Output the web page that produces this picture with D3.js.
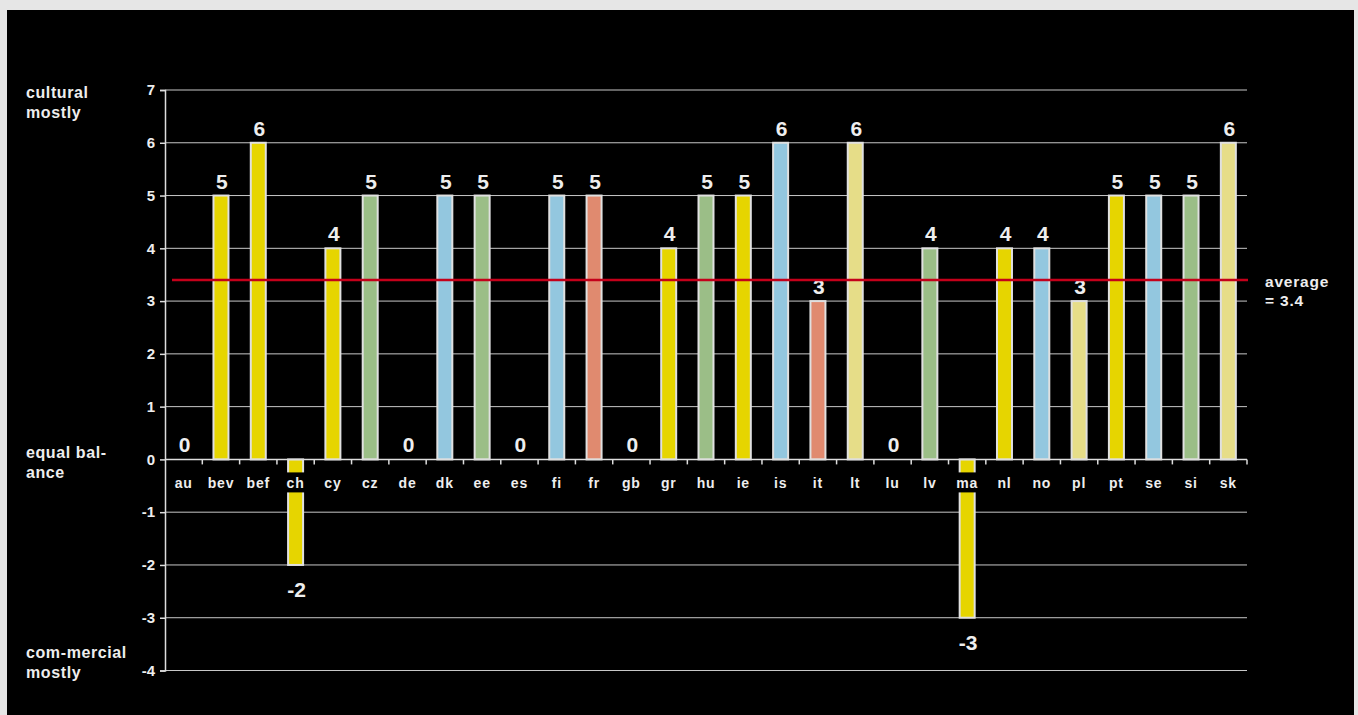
<!DOCTYPE html>
<html>
<head>
<meta charset="utf-8">
<script src="https://cdn.jsdelivr.net/npm/d3@7"></script>
<style>
  html, body { margin: 0; padding: 0; background: #e6e6e6; }
  svg { display: block; font-family: "Liberation Sans", Arial, Helvetica, sans-serif; font-weight: bold; }
</style>
</head>
<body>
<svg id="chart" width="1358" height="715"></svg>
<script>
// Country codes along the category axis
const countries = ["au","bev","bef","ch","cy","cz","de","dk","ee","es","fi","fr","gb","gr","hu","ie","is","it","lt","lu","lv","ma","nl","no","pl","pt","se","si","sk"];
// Score per country (cultural vs commercial balance)
const scores = [0,5,6,-2,4,5,0,5,5,0,5,5,0,4,5,5,6,3,6,0,4,-3,4,4,3,5,5,5,6];
// Colour group per country
const groups = ["y","y","y","y","y","g","y","b","g","y","b","s","y","y","g","y","b","s","p","y","g","y","y","b","p","y","b","g","p"];
const groupColors = { y: "#e6d500", p: "#e6dd88", g: "#9bbe87", b: "#93c7df", s: "#e08a6f" };
const yTicks = [-4,-3,-2,-1,0,1,2,3,4,5,6,7];
const average = 3.4;
const sideLabels = [
  { value: 7, dy: 8, lines: ["cultural", "mostly"] },
  { value: 0, dy: -1, lines: ["equal bal-", "ance"] },
  { value: -4, dy: -13, lines: ["com-mercial", "mostly"] }
];

const svg = d3.select("#chart");
// black panel
svg.append("rect").attr("x", 7).attr("y", 10).attr("width", 1347).attr("height", 705).attr("fill", "#000");

const left = 165, right = 1247;
const x = d3.scaleBand().domain(countries).range([left, right]).paddingInner(0).paddingOuter(0);
const y = d3.scaleLinear().domain([-4, 7]).range([670.5, 90]);

// horizontal grid lines
svg.append("g").selectAll("line").data(yTicks.filter(t => t !== 0)).join("line")
  .attr("x1", left).attr("x2", right)
  .attr("y1", d => y(d)).attr("y2", d => y(d))
  .attr("stroke", "#c8c8c8").attr("stroke-width", 1);

// y axis
const yAxis = d3.axisLeft(y).tickValues(yTicks).tickSize(5).tickPadding(5).tickFormat(d => String(d));
const gy = svg.append("g").attr("transform", `translate(${left},0)`).call(yAxis);
gy.attr("font-size", null).attr("font-family", null);
gy.select(".domain").attr("stroke", "#ddd").attr("stroke-width", 1.5);
gy.selectAll(".tick line").attr("stroke", "#ddd").attr("stroke-width", 1.5);
gy.selectAll(".tick text").attr("fill", "#eee").attr("font-size", 15).attr("font-weight", "bold");

// bars
const bw = 15;
const data = countries.map((c, i) => ({ c, v: scores[i], g: groups[i] }));
svg.append("g").selectAll("rect").data(data.filter(d => d.v !== 0)).join("rect")
  .attr("x", d => x(d.c) + x.bandwidth() / 2 - bw / 2)
  .attr("width", bw)
  .attr("y", d => Math.min(y(d.v), y(0)))
  .attr("height", d => Math.abs(y(d.v) - y(0)))
  .attr("fill", d => groupColors[d.g])
  .attr("stroke", "#e0e0e0").attr("stroke-width", 2);

// category axis at zero with ticks between categories
const gx = svg.append("g").attr("transform", `translate(0,${y(0)})`);
gx.append("line").attr("x1", left).attr("x2", right).attr("stroke", "#ddd").attr("stroke-width", 1.5);
gx.selectAll("line.sep").data(countries).join("line").attr("class", "sep")
  .attr("x1", d => x(d) + x.bandwidth())
  .attr("x2", d => x(d) + x.bandwidth())
  .attr("y1", 0).attr("y2", 5)
  .attr("stroke", "#ddd").attr("stroke-width", 1.5);

// category labels with a knock-out box where they sit over a bar
const catG = svg.append("g");
const labelY = y(0) + 29;
const cats = catG.selectAll("g").data(data).join("g")
  .attr("transform", d => `translate(${x(d.c) + x.bandwidth() / 2},${labelY})`);
cats.filter(d => d.v < 0).append("rect")
  .attr("x", -bw / 2 - 2).attr("y", -16).attr("width", bw + 4).attr("height", 20).attr("fill", "#000");
cats.append("text").attr("text-anchor", "middle").attr("fill", "#eee").attr("font-size", 14)
  .attr("letter-spacing", 0.8)
  .text(d => d.c);

// value labels
svg.append("g").selectAll("text").data(data).join("text")
  .attr("x", d => x(d.c) + x.bandwidth() / 2 + 1)
  .attr("y", d => d.v >= 0 ? y(d.v) - 7 : y(d.v) + 32)
  .attr("text-anchor", "middle").attr("fill", "#eee").attr("font-size", 21)
  .text(d => d.v);

// average line
svg.append("line").attr("x1", 172).attr("x2", 1248)
  .attr("y1", y(average)).attr("y2", y(average))
  .attr("stroke", "#c4001a").attr("stroke-width", 2.6);
const avgT = svg.append("text").attr("x", 1265).attr("y", y(average) + 7).attr("fill", "#eee")
  .attr("font-size", 15.5).attr("letter-spacing", 0.8);
avgT.append("tspan").attr("x", 1265).text("average");
avgT.append("tspan").attr("x", 1265).attr("dy", 19).text("= " + average);

// descriptive labels for the scale
sideLabels.forEach(s => {
  const t = svg.append("text").attr("x", 26).attr("y", y(s.value) + s.dy).attr("fill", "#eee")
    .attr("font-size", 16).attr("letter-spacing", 0.6);
  s.lines.forEach((l, i) => t.append("tspan").attr("x", 26).attr("dy", i === 0 ? 0 : 20).text(l));
});
</script>
</body>
</html>
